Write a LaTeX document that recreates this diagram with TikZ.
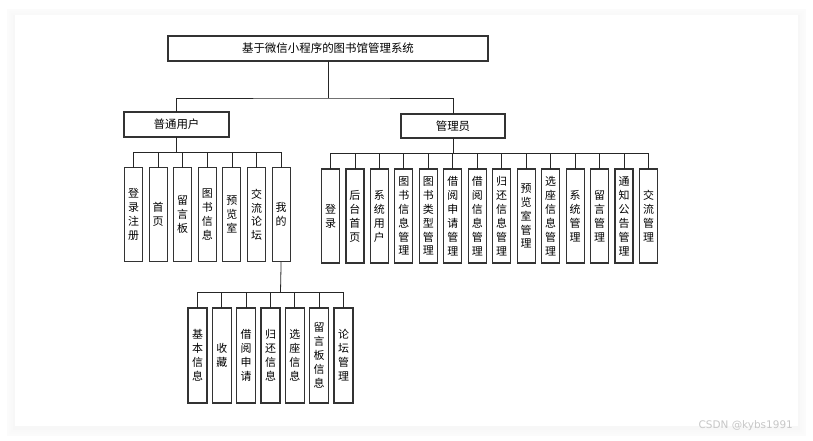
\documentclass[tikz,border=0pt]{standalone}
\usepackage{fontspec}
\setmainfont{Noto Sans CJK SC}
\newfontfamily\wmfont{DejaVu Sans}
\begin{document}
\begin{tikzpicture}[x=1bp,y=-1bp,
  box/.style={draw=black!80,line width=1.1bp,fill=white,inner sep=0pt,outer sep=0pt},
  hbox/.style={box,minimum height=25bp,font=\fontsize{11.5}{13}\selectfont},
  vbox/.style={box,minimum width=18bp,minimum height=94bp,align=center,font=\fontsize{11}{14}\selectfont},
  conn/.style={draw=black!85,line width=0.8bp}]
\useasboundingbox (0,0) rectangle (813,441);
% card shadow
\foreach \d/\c in {8/1.5,6/2,4/2.5,2/3}{
  \fill[black!\c] (15-\d,15-\d+2) rectangle (798+\d,426+\d+2);
}
\fill[white] (15,15) rectangle (798,426);

\node[hbox,minimum width=320bp] (top) at (328,48.5) {基于微信小程序的图书馆管理系统};
\node[hbox,minimum width=105bp] (u) at (176.5,124.5) {普通用户};
\node[hbox,minimum width=104bp,minimum height=24bp] (a) at (453,126) {管理员};

\coordinate (b1) at (328,98);
\draw[conn] (top.south) -- (b1);
\draw[conn] (u.north) |- (b1) -| (a.north);

% user children
\coordinate (bu) at (176.5,152);
\draw[conn] (u.south) -- (bu);
\foreach \t [count=\i from 0] in {{登\\录\\注\\册},{首\\页},{留\\言\\板},{图\\书\\信\\息},{预\\览\\室},{交\\流\\论\\坛},{我\\的}}{
  \node[vbox] (u\i) at (133.5+24.6*\i,214.75) {\t};
  \draw[conn] (u\i.north) |- (bu);
}

% admin children
\coordinate (ba) at (453,153);
\draw[conn] (a.south) -- (ba);
\foreach \t [count=\i from 0] in {{登\\录},{后\\台\\首\\页},{系\\统\\用\\户},{图\\书\\信\\息\\管\\理},{图\\书\\类\\型\\管\\理},{借\\阅\\申\\请\\管\\理},{借\\阅\\信\\息\\管\\理},{归\\还\\信\\息\\管\\理},{预\\览\\室\\管\\理},{选\\座\\信\\息\\管\\理},{系\\统\\管\\理},{留\\言\\管\\理},{通\\知\\公\\告\\管\\理},{交\\流\\管\\理}}{
  \node[vbox] (a\i) at (330.5+24.46*\i,216) {\t};
  \draw[conn] (a\i.north) |- (ba);
}

% 我的 children
\coordinate (bm) at (280.5,292);
\draw[conn] (u6.south) -- (bm);
\foreach \t [count=\i from 0] in {{基\\本\\信\\息},{收\\藏},{借\\阅\\申\\请},{归\\还\\信\\息},{选\\座\\信\\息},{留\\言\\板\\信\\息},{论\\坛\\管\\理}}{
  \node[vbox,minimum width=19bp,minimum height=95bp] (m\i) at (197.5+24.33*\i,355.5) {\t};
  \draw[conn] (m\i.north) |- (bm);
}

\node[anchor=east,text=black!22,font=\wmfont\fontsize{10.5}{12}\selectfont,inner sep=0pt] (wm) at (793,426) {CSDN @kybs1991};
\end{tikzpicture}
\end{document}
